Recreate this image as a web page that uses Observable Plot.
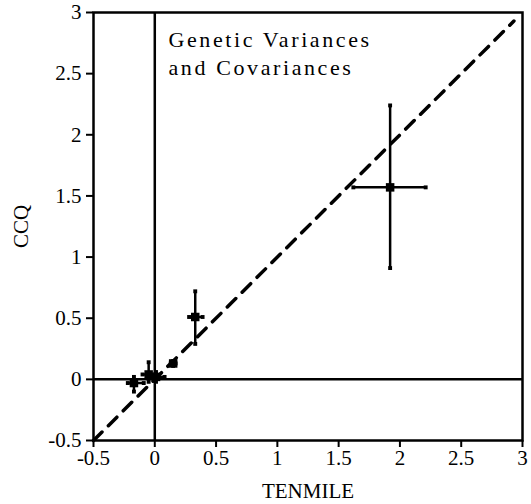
<!DOCTYPE html>
<html><head><meta charset="utf-8">
<script src="https://cdn.jsdelivr.net/npm/d3@7"></script>
<script src="https://cdn.jsdelivr.net/npm/@observablehq/plot@0.6"></script>
<style>body{margin:0;background:#fff} svg{display:block}</style>
</head><body><div id="chart"></div>
<script>
// TENMILE (x) vs CCQ (y) genetic variances / covariances
const tenmile   = [-0.17, -0.05, 0.01, 0.15, 0.33, 1.92];
const ccq       = [-0.03,  0.04, 0.02, 0.13, 0.51, 1.57];
const tenmileLo = [-0.22, -0.10, -0.06, 0.13, 0.28, 1.62];
const tenmileHi = [-0.09,  0.00,  0.08, 0.17, 0.39, 2.21];
const ccqLo     = [-0.10, -0.02, -0.02, 0.11, 0.29, 0.91];
const ccqHi     = [ 0.02,  0.14,  0.06, 0.15, 0.72, 2.24];
const tickValues = [-0.5, 0, 0.5, 1, 1.5, 2, 2.5, 3];
const tickLabels = ["-0.5", "0", "0.5", "1", "1.5", "2", "2.5", "3"];
const diagonal = [-0.5, 2.93];
const annotation = ["Genetic Variances\nand Covariances"];

const rows = tenmile.map((x, i) => ({x, y: ccq[i], x1: tenmileLo[i], x2: tenmileHi[i], y1: ccqLo[i], y2: ccqHi[i]}));
const caps = rows.flatMap(d => [
  {x: d.x1, y: d.y}, {x: d.x2, y: d.y}, {x: d.x, y: d.y1}, {x: d.x, y: d.y2}
]);
const fmt = d => tickLabels[tickValues.indexOf(d)];
const font = "'Liberation Serif', 'Times New Roman', serif";

const chart = Plot.plot({
  width: 531,
  height: 504,
  marginLeft: 93,
  marginRight: 9,
  marginTop: 12,
  marginBottom: 64,
  style: {fontFamily: font, fontSize: "21px", color: "#000", background: "#fff"},
  x: {domain: [-0.5, 3]},
  y: {domain: [-0.5, 3]},
  marks: [
    Plot.axisX({ticks: tickValues, tickFormat: fmt, tickSize: 7, tickPadding: 3, strokeWidth: 2, fill: "#000",
      label: "TENMILE", labelAnchor: "center", labelArrow: "none", labelOffset: 57, fontSize: 21}),
    Plot.axisY({ticks: tickValues, tickFormat: fmt, tickSize: 7, tickPadding: 5, strokeWidth: 2, fill: "#000",
      label: "CCQ", labelAnchor: "center", labelArrow: "none", labelOffset: 80, fontSize: 21}),
    Plot.frame({stroke: "#000", strokeWidth: 2.5}),
    Plot.ruleX([0], {stroke: "#000", strokeWidth: 2.5}),
    Plot.ruleY([0], {stroke: "#000", strokeWidth: 2.5}),
    Plot.line(diagonal, {x: d => d, y: d => d, stroke: "#000", strokeWidth: 3.5, strokeDasharray: "12,9"}),
    Plot.ruleX(rows, {x: "x", y1: "y1", y2: "y2", stroke: "#000", strokeWidth: 2.5}),
    Plot.ruleY(rows, {y: "y", x1: "x1", x2: "x2", stroke: "#000", strokeWidth: 2.5}),
    Plot.dot(caps, {x: "x", y: "y", symbol: "square", r: 2.2, fill: "#000", stroke: "none"}),
    Plot.dot(rows, {x: "x", y: "y", symbol: "square", r: 4.8, fill: "#000", stroke: "none"}),
    Plot.text(annotation, {frameAnchor: "top-left", dx: 75, dy: 15, lineAnchor: "top", textAnchor: "start",
      fontSize: 22, lineHeight: 1.25, fill: "#000"})
  ]
});
d3.select(chart).selectAll("text").filter(function() {
  return this.textContent.includes("Variances") || this.textContent.includes("Covariances");
}).style("letter-spacing", "2.6px");
document.getElementById("chart").append(chart);
</script>
</body></html>
